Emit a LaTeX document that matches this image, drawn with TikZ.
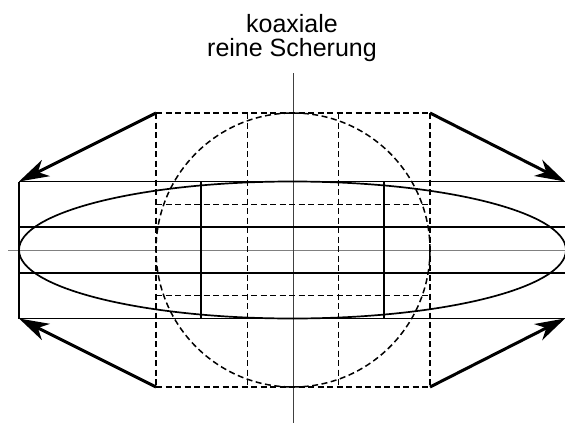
\documentclass[tikz,border=0pt]{standalone}
\usepackage{fontspec}
\setmainfont{Liberation Sans}
\usetikzlibrary{arrows.meta}

\begin{document}
\begin{tikzpicture}[x=1pt, y=-1pt,
    achse/.style={line width=1pt},
    alt/.style={line width=1.5pt, dash pattern=on 6pt off 3.5pt},
    neu/.style={line width=1.7pt},
    pfeil/.style={line width=3pt, -{Stealth[length=30pt, width=18pt, inset=9pt]}}]
  \useasboundingbox (0,0) rectangle (565,423);

  % Achsen
  \draw[achse, gray] (8,250) -- (565,250);
  \draw[achse, black!75] (293,73) -- (293,423);

  % Titel
  \node[align=center, inner sep=0pt, font=\fontsize{25}{24}\selectfont] (titel) at (292,38) {koaxiale\\reine Scherung};

  % Ausgangszustand: Quadrat mit Kreis
  \foreach \i in {0,1,2,3} {
    \pgfmathsetmacro{\xq}{156+\i*274/3}
    \pgfmathsetmacro{\yq}{113+\i*274/3}
    \draw[alt] (\xq,113) -- (\xq,387);
    \draw[alt] (156,\yq) -- (430,\yq);
  }
  \draw[alt] (293,250) circle (137);

  % Endzustand: Rechteck mit Ellipse
  \foreach \i in {0,1,2,3} {
    \pgfmathsetmacro{\xr}{19+\i*547/3}
    \pgfmathsetmacro{\yr}{181.5+\i*137/3}
    \draw[neu] (\xr,181.5) -- (\xr,318.5);
    \draw[neu] (19,\yr) -- (566,\yr);
  }
  \draw[neu] (292.5,250) ellipse (273.5 and 68.5);

  % Ecken
  \coordinate (q1) at (156,113);
  \coordinate (q2) at (430,113);
  \coordinate (q3) at (156,387);
  \coordinate (q4) at (430,387);
  \coordinate (r1) at (19,181.5);
  \coordinate (r2) at (565,181.5);
  \coordinate (r3) at (19,318.5);
  \coordinate (r4) at (565,318.5);

  % Verformung
  \draw[pfeil] (q1) -- (r1);
  \draw[pfeil] (q2) -- (r2);
  \draw[pfeil] (q3) -- (r3);
  \draw[pfeil] (q4) -- (r4);
\end{tikzpicture}
\end{document}
